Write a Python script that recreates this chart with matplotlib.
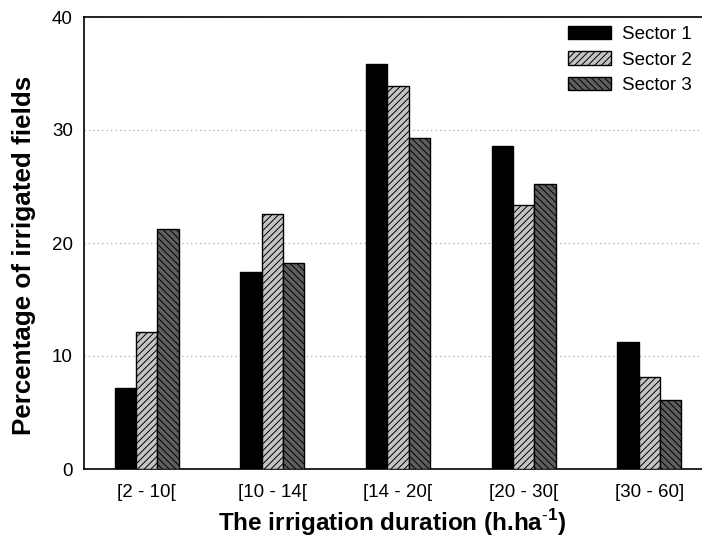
import numpy as np
import matplotlib
matplotlib.use('Agg')
import matplotlib.pyplot as plt

plt.rcParams['font.family'] = ['Liberation Sans', 'DejaVu Sans']
plt.rcParams['mathtext.fontset'] = 'custom'
plt.rcParams['mathtext.rm'] = 'Liberation Sans'
plt.rcParams['mathtext.bf'] = 'Liberation Sans:bold'
plt.rcParams['hatch.linewidth'] = 0.7

# dados
categorias = ['[2 - 10[', '[10 - 14[', '[14 - 20[', '[20 - 30[', '[30 - 60]']
setor1 = [7.2, 17.4, 35.8, 28.6, 11.2]
setor2 = [12.1, 22.6, 33.9, 23.4, 8.1]
setor3 = [21.2, 18.2, 29.3, 25.2, 6.1]
yticks = [0, 10, 20, 30, 40]

fig = plt.figure(figsize=(7.02, 5.41), dpi=100)
# eixo vai um pouco alem da borda direita (como no original)
ax = fig.add_axes([84/702, 72/541, 628/702, 452/541])

x = np.arange(len(categorias))
w = 0.17
ax.bar(x - w, setor1, w, color='black', edgecolor='black', linewidth=1, label='Sector 1', zorder=3)
ax.bar(x, setor2, w, color='#c4c4c4', edgecolor='black', linewidth=1, hatch='/////', label='Sector 2', zorder=3)
ax.bar(x + w, setor3, w, color='#5e5e5e', edgecolor='black', linewidth=1, hatch='\\\\\\\\\\', label='Sector 3', zorder=3)

ax.set_xlim(-0.5, 4.5)
ax.set_ylim(0, 40)
ax.set_yticks(yticks)
ax.set_xticks(x)
ax.set_xticklabels(categorias)
ax.tick_params(axis='both', length=0, labelsize=13.5)
ax.tick_params(axis='y', pad=8)
ax.tick_params(axis='x', pad=11)
ax.yaxis.grid(True, linestyle=(0, (1, 3)), color='#999999', linewidth=0.8, zorder=0)
for s in ax.spines.values():
    s.set_linewidth(1.2)

ax.set_ylabel('Percentage of irrigated fields', fontsize=18.7, fontweight='bold')
ax.yaxis.set_label_coords(-0.076, 0.472)
ax.set_xlabel(r'The irrigation duration (h.ha$^{\mathbf{\text{-}1}}$)', fontsize=17.5, fontweight='bold')
ax.xaxis.set_label_coords(0.491, -0.084)

ax.legend(loc='upper right', bbox_to_anchor=(709/702, 1 - 9/541), bbox_transform=fig.transFigure,
          frameon=False, fontsize=13.5, handlelength=2.3, handletextpad=0.6, labelspacing=0.45)

fig.savefig('out.png', dpi=100)
